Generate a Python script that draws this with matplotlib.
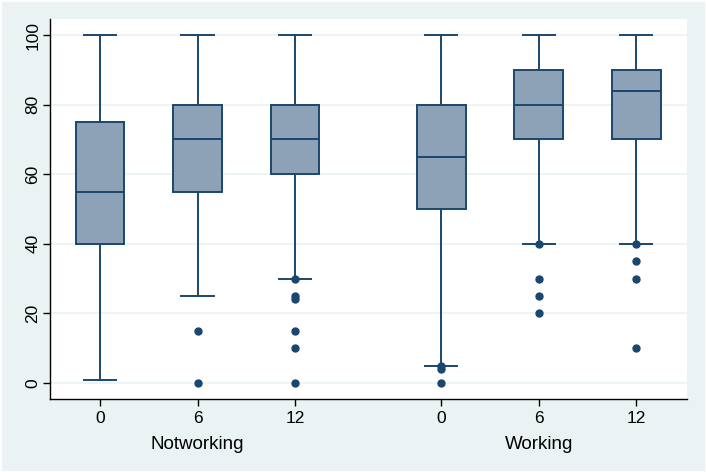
import matplotlib
matplotlib.use("Agg")
import matplotlib.pyplot as plt
from matplotlib.patches import Rectangle

plt.rcParams['font.family'] = ['Liberation Sans', 'DejaVu Sans']

groups = ["Notworking", "Working"]
tick_labels = ["0", "6", "12", "0", "6", "12"]
whislo = [1, 25, 30, 5, 40, 40]
q1 = [40, 55, 60, 50, 70, 70]
med = [55, 70, 70, 65, 80, 84]
q3 = [75, 80, 80, 80, 90, 90]
whishi = [100, 100, 100, 100, 100, 100]
fliers = [
    [],
    [15, 0],
    [30, 25, 24, 15, 10, 0],
    [5, 4, 0],
    [40, 30, 25, 20],
    [40, 35, 30, 10],
]

positions = [1, 2, 3, 4.5, 5.5, 6.5]
group_pos = [2, 5.5]

navy = "#1a476f"
fill = "#8da2b7"
bg = "#eaf2f3"

fig = plt.figure(figsize=(7.06, 4.72), dpi=100)
fig.patch.set_facecolor(bg)
fig.patches.append(Rectangle((0, 0), 1, 1, transform=fig.transFigure,
                             fill=False, edgecolor="white", linewidth=2, zorder=-1))
ax = fig.add_axes([50/706, 73/472, 637/706, 380/472])
ax.set_facecolor("white")

stats = []
for i in range(len(positions)):
    stats.append(dict(whislo=whislo[i], q1=q1[i], med=med[i], q3=q3[i],
                      whishi=whishi[i], fliers=fliers[i]))

ax.bxp(stats, positions=positions, widths=0.5, patch_artist=True,
       showfliers=True,
       boxprops=dict(facecolor=fill, edgecolor=navy, linewidth=1.4),
       medianprops=dict(color=navy, linewidth=1.4),
       whiskerprops=dict(color=navy, linewidth=1.4),
       capprops=dict(color=navy, linewidth=1.4),
       capwidths=0.33,
       flierprops=dict(marker='o', markerfacecolor=navy, markeredgecolor=navy,
                       markersize=5, linestyle='none'))

ax.set_ylim(-4.6, 104.6)
ax.set_xlim(0.487, 7.02)
ax.set_yticks([0, 20, 40, 60, 80, 100])
ax.set_yticklabels(["0", "20", "40", "60", "80", "100"], rotation=90, va='center',
                   fontsize=12.5)
ax.set_xticks(positions)
ax.set_xticklabels(tick_labels, fontsize=12.5)
ax.tick_params(axis='both', direction='out', length=5, width=1, color='black')
ax.tick_params(axis='x', pad=3.5)
ax.tick_params(axis='y', pad=2)
ax.yaxis.grid(True, color=bg, linewidth=1.2)
ax.set_axisbelow(True)
for s in ['top', 'right']:
    ax.spines[s].set_visible(False)
for s in ['left', 'bottom']:
    ax.spines[s].set_color('black')
    ax.spines[s].set_linewidth(1)

for g, p in zip(groups, group_pos):
    ax.text(p, -0.12, g, transform=ax.get_xaxis_transform(), ha='center',
            va='center', fontsize=13.5)

fig.savefig("out.png", dpi=100, facecolor=bg)
